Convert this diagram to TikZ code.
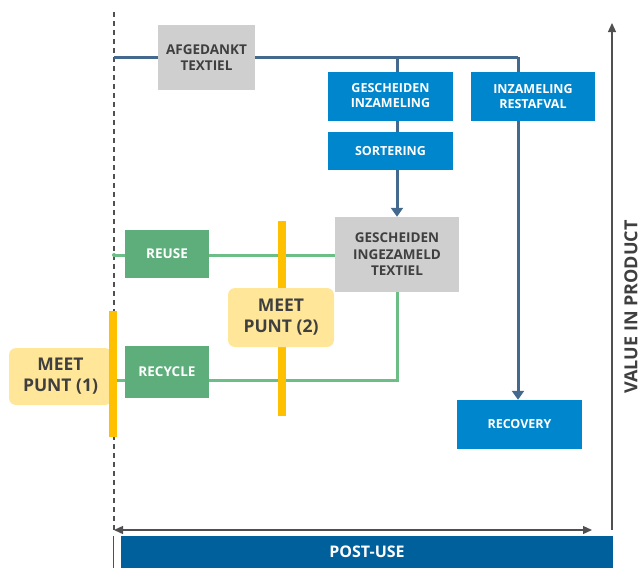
\documentclass[tikz,border=0pt]{standalone}
\usepackage{fontspec}
\setmainfont{Open Sans}
\usetikzlibrary{arrows.meta,backgrounds}
\definecolor{steel}{HTML}{44698E}
\definecolor{bluebox}{HTML}{0086CD}
\definecolor{graybox}{HTML}{CFCFCF}
\definecolor{greenbox}{HTML}{5DAE7B}
\definecolor{greenline}{HTML}{6DBD87}
\definecolor{ybar}{HTML}{FFC000}
\definecolor{ylabel}{HTML}{FFE699}
\definecolor{darktext}{HTML}{3F3F3F}
\definecolor{postuse}{HTML}{00609C}
\definecolor{axis}{HTML}{505050}
\begin{document}
\begin{tikzpicture}[x=1pt,y=-1pt,
  box/.style={rectangle, inner sep=0pt, align=center, font=\bfseries},
  blueb/.style={box, fill=bluebox, text=white, font=\bfseries\fontsize{12.5}{15}\selectfont},
  grayb/.style={box, fill=graybox, text=darktext, font=\bfseries\fontsize{13.5}{16.5}\selectfont},
  greenb/.style={box, fill=greenbox, text=white, font=\bfseries\fontsize{13.5}{16}\selectfont},
  meet/.style={box, fill=ylabel, rounded corners=7pt, text=darktext, font=\bfseries\fontsize{17.5}{21}\selectfont},
  bar/.style={rectangle, fill=ybar, inner sep=0pt, minimum width=8pt},
  steelline/.style={draw=steel, line width=3pt},
  greenl/.style={draw=greenline, line width=3pt},
  sarrow/.style={-{Triangle[width=12pt,length=9pt]}},
  axisline/.style={draw=axis, line width=1.3pt},
]
\useasboundingbox (0,0) rectangle (641,568);

% nodes
\node[grayb, minimum width=97pt, minimum height=65pt] (afg) at (206.5,57.5) {AFGEDANKT\\TEXTIEL};
\node[blueb, minimum width=125pt, minimum height=49pt] (gi) at (390.5,96) {GESCHEIDEN\\INZAMELING};
\node[blueb, minimum width=125pt, minimum height=38pt] (sort) at (390.5,151) {SORTERING};
\node[blueb, minimum width=124pt, minimum height=49pt] (ir) at (533,96.5) {INZAMELING\\RESTAFVAL};
\node[blueb, minimum width=125pt, minimum height=49pt] (rec) at (519.5,424.5) {RECOVERY};
\node[grayb, minimum width=124pt, minimum height=75pt] (git) at (397,254.5) {GESCHEIDEN\\INGEZAMELD\\TEXTIEL};
\node[greenb, minimum width=84pt, minimum height=48pt] (reuse) at (167,254) {REUSE};
\node[greenb, minimum width=84pt, minimum height=52pt] (recycle) at (167,372) {RECYCLE};

\node[meet, minimum width=103pt, minimum height=57pt] (mp1) at (60.5,376.5) {MEET\\PUNT (1)};
\node[bar, minimum height=126pt] (bar1) at (113,374) {};
\node[bar, minimum height=195pt] (bar2) at (282,318.5) {};
\node[meet, minimum width=106pt, minimum height=59pt] (mp2) at (281,317.5) {MEET\\PUNT (2)};

\coordinate (start) at (114,57);
\coordinate (corner) at (518,57);
\coordinate (split) at (397,57);
\coordinate (rstart) at (114,255);
\coordinate (gcorner) at (397,380);
\coordinate (rcend) at (114,380);
\coordinate (dtop) at (114,12);
\coordinate (dbot) at (114,530);

\begin{scope}[on background layer]
  \draw[axis, line width=1.4pt, dash pattern=on 5pt off 4pt] (dtop) -- (dbot);
  \draw[steelline] (start) -- (corner);
  \draw[steelline, sarrow] (split) -- (git.north);
  \draw[steelline, sarrow] (corner) -- (rec.north -| corner);
  \draw[greenl] (rstart) -- (git.west |- rstart);
  \draw[greenl] (git.south) -- (gcorner) -- (rcend);
  \fill[greenline] (rstart) circle (2pt);
\end{scope}

% axes
\coordinate (hl) at (114,530);
\coordinate (hr) at (592,530);
\draw[axisline, {Triangle[width=8pt,length=9pt]}-{Triangle[width=8pt,length=9pt]}] (hl) -- (hr);
\coordinate (vb) at (612,530);
\coordinate (vt) at (612,23);
\draw[axisline, -{Triangle[width=8pt,length=9pt]}] (vb) -- (vt);
\node[rotate=90, text=darktext, font=\bfseries\fontsize{18}{21}\selectfont] (val) at (631,307) {VALUE IN PRODUCT};

\coordinate (ptop) at (113,536);
\coordinate (pbot) at (113,568);
\draw[axis, line width=1pt] (ptop) -- (pbot);
\node[rectangle, fill=postuse, text=white, inner sep=0pt, minimum width=492pt, minimum height=33pt, font=\bfseries\fontsize{16}{19}\selectfont] (post) at (367,552) {POST-USE};
\end{tikzpicture}
\end{document}
